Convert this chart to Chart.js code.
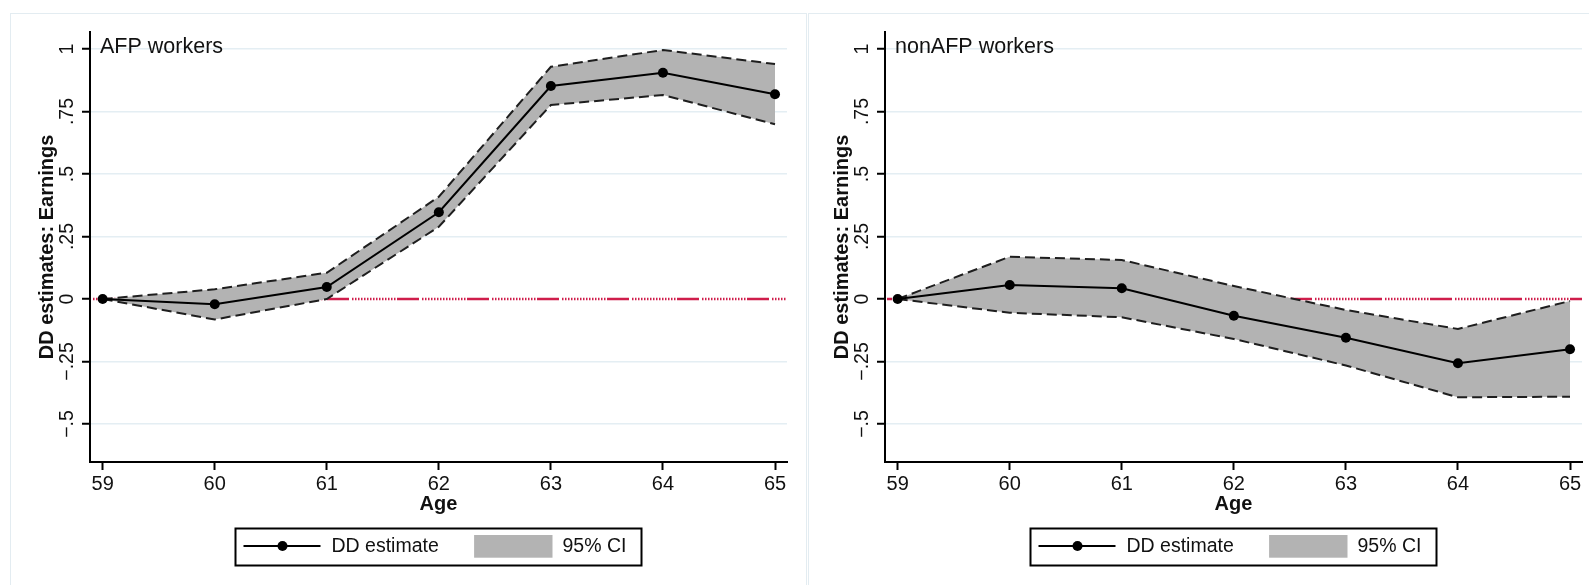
<!DOCTYPE html>
<html>
<head>
<meta charset="utf-8">
<script src="https://cdn.jsdelivr.net/npm/chart.js@4.4.1/dist/chart.umd.min.js"></script>
<style>
  html, body { margin: 0; padding: 0; background: #ffffff; }
  #wrap { position: relative; width: 1589px; height: 585px; overflow: hidden; background: #ffffff; }
  .frame { position: absolute; border: 1.5px solid #e3ecf1; box-sizing: border-box; }
  canvas { position: absolute; top: 0; }
</style>
</head>
<body>
<div id="wrap">
  <div class="frame" style="left:10px;top:13px;width:797px;height:620px"></div>
  <div class="frame" style="left:808px;top:13px;width:820px;height:620px"></div>
  <canvas id="afpChart" width="795" height="585" style="left:0px"></canvas>
  <canvas id="nonAfpChart" width="795" height="585" style="left:795px"></canvas>
</div>
<script>
// Ages on the horizontal axis
const ages = [59, 60, 61, 62, 63, 64, 65];

// AFP workers: difference-in-differences estimate and 95% confidence bounds
const afpEstimate = [0.000, -0.021, 0.048, 0.347, 0.852, 0.905, 0.819];
const afpUpper    = [0.000,  0.039, 0.105, 0.409, 0.929, 0.996, 0.940];
const afpLower    = [0.000, -0.082, 0.000, 0.289, 0.776, 0.816, 0.699];

// non-AFP workers
const nonAfpEstimate = [0.000,  0.056,  0.043, -0.067, -0.155, -0.257, -0.201];
const nonAfpUpper    = [0.000,  0.169,  0.156,  0.052, -0.044, -0.120, -0.008];
const nonAfpLower    = [0.000, -0.055, -0.073, -0.160, -0.266, -0.393, -0.391];

// Axis ticks and labels
const yTickValues = [-0.5, -0.25, 0, 0.25, 0.5, 0.75, 1];
const yTickLabels = ['\u2212.5', '\u2212.25', '0', '.25', '.5', '.75', '1'];
const xTickLabels = ['59', '60', '61', '62', '63', '64', '65'];
const xRange = [58.887, 65.107];
const yRange = [-0.652, 1.068];

const panelTitles = ['AFP workers', 'nonAFP workers'];
const yAxisTitle = 'DD estimates: Earnings';
const xAxisTitle = 'Age';
const seriesLabels = ['DD estimate', '95% CI'];

// Styling
const FONT = '"Liberation Sans", Arial, Helvetica, sans-serif';
const textColor = '#111111';
const gridColor = '#e4eef3';
const bandColor = '#b3b3b3';
const ciLineColor = '#1e1e1e';
const refColor = '#cf1d4b';
const refDash = [22, 3].concat(Array(30).fill(1.5));

// Dash-dot reference line at zero, drawn beneath the confidence band
const zeroLine = {
  id: 'zeroLine',
  beforeDatasetsDraw(chart, args, opts) {
    const { ctx, chartArea, scales: { y } } = chart;
    const py = y.getPixelForValue(0);
    ctx.save();
    ctx.strokeStyle = refColor;
    ctx.lineWidth = 2.4;
    ctx.setLineDash(refDash);
    ctx.lineDashOffset = opts.dashOffset || 0;
    ctx.beginPath();
    ctx.moveTo(chartArea.left + 2, py);
    ctx.lineTo(chartArea.right, py);
    ctx.stroke();
    ctx.restore();
  }
};

// Vertical tick labels, rotated axis title and the panel caption
const axisText = {
  id: 'axisText',
  afterDraw(chart, args, opts) {
    const { ctx, chartArea, scales: { y } } = chart;
    ctx.save();
    ctx.fillStyle = textColor;
    ctx.font = '19.5px ' + FONT;
    ctx.textAlign = 'center';
    ctx.textBaseline = 'alphabetic';
    y.ticks.forEach(t => {
      const idx = yTickValues.indexOf(t.value);
      if (idx < 0) return;
      ctx.save();
      ctx.translate(chartArea.left - 17, y.getPixelForValue(t.value));
      ctx.rotate(-Math.PI / 2);
      ctx.fillText(yTickLabels[idx], 0, 0);
      ctx.restore();
    });
    ctx.font = 'bold 20px ' + FONT;
    ctx.save();
    ctx.translate(chartArea.left - 37, (chartArea.top + chartArea.bottom) / 2);
    ctx.rotate(-Math.PI / 2);
    ctx.fillText(yAxisTitle, 0, 0);
    ctx.restore();
    ctx.font = '21.5px ' + FONT;
    ctx.textAlign = 'left';
    ctx.fillText(opts.title, chartArea.left + 10, chartArea.top + 21);
    ctx.restore();
  }
};

// Boxed legend under the axis title
const boxLegend = {
  id: 'boxLegend',
  afterDraw(chart) {
    const { ctx, chartArea } = chart;
    const est = chart.data.datasets[0];
    const ci = chart.data.datasets[2];
    const w = 406, h = 37;
    const left = (chartArea.left + chartArea.right) / 2 - w / 2;
    const top = 528.5;
    const my = top + h / 2;
    ctx.save();
    ctx.lineWidth = 2;
    ctx.strokeStyle = '#000';
    ctx.strokeRect(left, top, w, h);
    ctx.strokeStyle = est.borderColor;
    ctx.lineWidth = est.borderWidth;
    ctx.beginPath();
    ctx.moveTo(left + 8, my - 1);
    ctx.lineTo(left + 85, my - 1);
    ctx.stroke();
    ctx.fillStyle = est.pointBackgroundColor;
    ctx.beginPath();
    ctx.arc(left + 47, my - 1, est.pointRadius, 0, Math.PI * 2);
    ctx.fill();
    ctx.fillStyle = ci.backgroundColor;
    ctx.fillRect(left + 238.6, top + 6.5, 78.4, 22.7);
    ctx.fillStyle = textColor;
    ctx.font = '19.5px ' + FONT;
    ctx.textAlign = 'left';
    ctx.textBaseline = 'middle';
    ctx.fillText(est.label, left + 96, my);
    ctx.fillText(ci.label, left + 327, my);
    ctx.restore();
  }
};

function points(values) {
  return ages.map((a, i) => ({ x: a, y: values[i] }));
}

function makeChart(canvasId, title, est, lower, upper, dashOffset) {
  return new Chart(document.getElementById(canvasId), {
    type: 'line',
    data: {
      datasets: [
        {
          label: seriesLabels[0],
          data: points(est),
          borderColor: '#000000',
          borderWidth: 2,
          pointRadius: 5,
          pointBackgroundColor: '#000000',
          pointBorderWidth: 0,
          fill: false,
          tension: 0
        },
        {
          label: seriesLabels[1] + ' lower',
          data: points(lower),
          borderColor: ciLineColor,
          borderWidth: 2,
          borderDash: [10, 5],
          pointRadius: 0,
          fill: false,
          tension: 0
        },
        {
          label: seriesLabels[1],
          data: points(upper),
          borderColor: ciLineColor,
          borderWidth: 2,
          borderDash: [10, 5],
          pointRadius: 0,
          backgroundColor: bandColor,
          fill: '-1',
          tension: 0
        }
      ]
    },
    options: {
      responsive: false,
      animation: false,
      events: [],
      layout: { padding: { left: 30, right: 8, top: 32, bottom: 63 } },
      plugins: {
        legend: { display: false },
        tooltip: { enabled: false },
        zeroLine: { dashOffset: dashOffset },
        axisText: { title: title }
      },
      scales: {
        x: {
          type: 'linear',
          min: xRange[0],
          max: xRange[1],
          afterBuildTicks: s => { s.ticks = ages.map(v => ({ value: v })); },
          afterFit: s => { s.height = 60; },
          grid: {
            drawOnChartArea: false,
            color: 'rgba(0,0,0,0)',
            tickColor: '#000000',
            tickWidth: 2,
            tickLength: 8
          },
          border: { color: '#000000', width: 2 },
          ticks: {
            color: textColor,
            font: { family: FONT, size: 20 },
            padding: 2,
            maxRotation: 0,
            autoSkip: false,
            callback: v => xTickLabels[ages.indexOf(v)]
          },
          title: {
            display: true,
            text: xAxisTitle,
            color: textColor,
            font: { family: FONT, size: 20, weight: 'bold' },
            padding: { top: 0, bottom: 6 }
          }
        },
        y: {
          min: yRange[0],
          max: yRange[1],
          afterBuildTicks: s => { s.ticks = yTickValues.map(v => ({ value: v })); },
          afterFit: s => { s.width = 60; },
          grid: {
            color: c => (c.tick && c.tick.value === 0) ? 'rgba(0,0,0,0)' : gridColor,
            lineWidth: 1.5,
            tickColor: '#000000',
            tickWidth: 2,
            tickLength: 8
          },
          border: { color: '#000000', width: 2 },
          ticks: { display: false }
        }
      }
    },
    plugins: [zeroLine, axisText, boxLegend]
  });
}

makeChart('afpChart', panelTitles[0], afpEstimate, afpLower, afpUpper, 45);
makeChart('nonAfpChart', panelTitles[1], nonAfpEstimate, nonAfpLower, nonAfpUpper, 17);
</script>
</body>
</html>
